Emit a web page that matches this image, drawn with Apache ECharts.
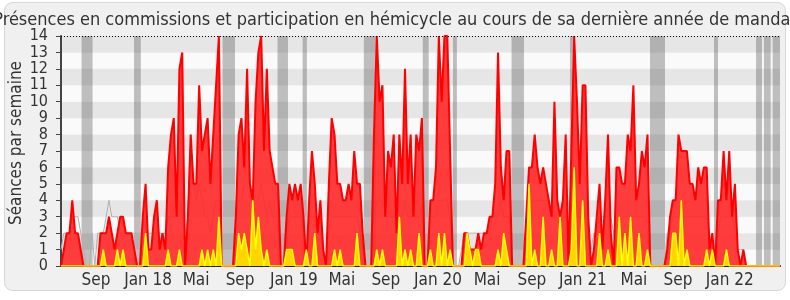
<!DOCTYPE html>
<html><head><meta charset="utf-8">
<script src="https://cdn.jsdelivr.net/npm/echarts@6/dist/echarts.min.js"></script>
<style>html,body{margin:0;padding:0;background:#fff}#c{width:790px;height:300px}</style>
</head><body><div id="c"></div>
<script>
// x positions are in weeks since the first week shown (week 0 .. 255)
const tickWeeks = [12.4, 30.9, 47.9, 63.5, 82.6, 99.6, 115.2, 133.7, 151.1, 167, 185.1, 203.2, 218.8, 237.2];
const tickLabels = ['Sep', 'Jan 18', 'Mai', 'Sep', 'Jan 19', 'Mai', 'Sep', 'Jan 20', 'Mai', 'Sep', 'Jan 21', 'Mai', 'Sep', 'Jan 22'];
const yTicks = [0,1,2,3,4,5,6,7,8,9,10,11,12,13,14];

// red: présences (séances par semaine)
const presence = [
 0,1,2,2,4,2,2,1,0,0,
 0,0,0,0,2,2,2,3,2,1,
 2,3,3,2,2,2,1,0,0,3,
 5,1,1,3,4,1,2,1,6,8,
 9,3,12,13,0,3,8,5,5,11,
 7,8,9,5,8,11,14,0,0,0,
 0,0,3,8,9,6,12,5,4,10,
 13,14,7,12,7,6,5,5,0,0,
 3,5,4,5,4,5,3,0,4,7,
 5,2,4,1,0,5,9,8,5,5,
 4,4,5,4,7,5,5,2,0,0,
 0,8,14,10,11,3,7,6,8,2,
 8,5,12,5,8,3,8,7,9,0,
 0,4,4,6,14,10,14,14,7,0,
 0,0,0,2,2,1,1,1,2,1,
 2,2,3,3,5,13,6,4,7,7,
 0,0,0,0,0,3,6,6,8,6,
 5,6,5,4,3,10,4,3,4,8,
 0,7,14,10,5,11,11,3,0,1,
 3,5,1,4,8,2,0,6,6,5,
 5,8,7,11,4,5,7,6,8,0,
 0,0,0,0,0,1,3,4,4,8,
 7,7,7,5,5,4,6,5,6,6,
 1,2,0,4,4,7,4,7,3,5,
 1,0,1,0,0,0,0,0,0,0,
 0,0,0,0,0,0
];
// yellow: participation en hémicycle
const hemicycle = [
 0,0,0,0,0,0,0,0,0,0,
 0,0,0,0,0,1,0,0,0,0,
 1,0,1,0,0,0,0,0,0,0,
 2,0,0,0,0,0,0,0,1,0,
 0,0,1,0,0,0,0,0,0,0,
 1,0,1,0,1,0,3,0,0,0,
 0,0,0,2,1,2,1,0,4,1,
 3,1,0,1,0,0,0,0,0,0,
 1,1,1,0,0,0,0,1,0,0,
 2,0,0,0,0,0,0,1,0,1,
 0,0,0,0,0,2,0,0,0,0,
 0,0,1,0,1,0,0,0,0,0,
 3,0,1,0,1,0,0,2,0,0,
 0,1,0,0,2,0,2,0,1,0,
 0,0,0,0,2,1,0,1,1,0,
 0,0,0,0,0,1,0,2,1,0,
 0,0,0,0,0,0,5,0,1,0,
 0,3,0,0,1,0,0,3,0,0,
 0,1,6,0,0,4,0,0,0,0,
 0,2,0,0,1,0,0,0,3,0,
 2,0,3,0,0,2,0,0,1,0,
 0,0,0,0,0,0,0,2,2,0,
 4,0,1,0,0,0,0,0,0,1,
 0,1,0,0,0,0,1,0,0,0,
 0,0,0,0,0,0,0,0,0,0,
 0,0,0,0,0,0
];
// grey: médiane des députés
const mediane = [
 1,2,2,2,3,3,3,2,1,0,
 0,2,0,2,2,2,3,4,3,3,
 3,2,2,2,2,2,2,2,2,2,
 2,2,2,2,2,2,2,2,3,3,
 3,3,4,3,2,3,5,5,4,5,
 4,3,3,2,3,4,4,0,0,0,
 0,0,3,4,4,5,5,5,4,4,
 4,5,4,3,4,3,3,3,0,0,
 1,3,3,3,3,3,2,0,3,3,
 3,2,2,1,0,2,3,3,3,3,
 3,3,3,3,3,3,2,1,0,0,
 0,3,4,4,4,3,3,3,3,3,
 3,3,4,3,3,3,3,3,3,0,
 0,3,3,3,4,4,4,4,3,0,
 0,0,1,2,2,2,2,2,2,2,
 2,2,2,3,3,3,4,3,3,3,
 0,0,0,0,0,3,3,4,4,4,
 4,4,4,4,3,3,3,3,3,3,
 2,3,3,3,3,3,3,2,1,2,
 2,3,3,3,3,3,2,1,2,3,
 3,3,3,3,3,3,3,3,2,0,
 0,0,0,0,0,2,2,3,3,3,
 3,3,3,3,3,3,3,3,3,3,
 2,1,0,2,3,3,3,3,3,2,
 1,1,1,0,0,0,0,0,0,0,
 0,0,0,0,0,0
];
// vacances parlementaires (start week, end week)
const vacStart = [7.3, 25.9, 57.3, 76.8, 85.7, 107.4, 128.3, 139.0, 159.8, 180.5, 208.9, 231.6, 246.5, 249.3, 252.4];
const vacEnd   = [11.2, 28.3, 61.7, 80.5, 87.2, 111.6, 130.4, 140.4, 164.2, 181.9, 214.2, 233.0, 248.6, 251.7, 255.0];

const FONT = "'DejaVu Sans Condensed', 'DejaVu Sans', sans-serif";
const pairs = arr => arr.map((v, i) => [i, v]);

const chart = echarts.init(document.getElementById('c'), null, {renderer: 'canvas'});
chart.setOption({
  animation: false,
  backgroundColor: '#ffffff',
  graphic: [{
    type: 'rect', z: -10, silent: true,
    shape: {x: 4.5, y: 2.5, width: 781, height: 288, r: 8},
    style: {fill: '#f0f0f0', stroke: '#d6d6d6', lineWidth: 1}
  }],
  title: {
    text: 'Présences en commissions et participation en hémicycle au cours de sa dernière année de mandat',
    left: 'center', top: 6,
    textStyle: {fontFamily: FONT, fontSize: 18, fontWeight: 'normal', color: '#333'}
  },
  grid: {left: 61, right: 10, top: 36, bottom: 34, containLabel: false, outerBoundsMode: 'none'},
  xAxis: {
    type: 'value', min: 0, max: presence.length - 1,
    axisLine: {show: true, onZero: false, lineStyle: {color: '#222', width: 2}},
    axisTick: {show: false},
    splitLine: {show: false},
    axisLabel: {
      customValues: tickWeeks,
      margin: 6, hideOverlap: false,
      fontFamily: FONT, fontSize: 17, color: '#333',
      formatter: v => { const k = tickWeeks.indexOf(v); return k >= 0 ? tickLabels[k] : ''; }
    }
  },
  yAxis: {
    type: 'value', min: 0, max: 14, interval: 1,
    name: 'Séances par semaine', nameLocation: 'middle', nameGap: 36, nameRotate: 90,
    nameMoveOverlap: false,
    nameTextStyle: {fontFamily: FONT, fontSize: 17, color: '#333', padding: [0, 0, 0, 16]},
    axisLine: {show: true, lineStyle: {color: '#444', width: 2}},
    axisTick: {show: true, length: 5, lineStyle: {color: '#444'}},
    axisLabel: {margin: 13, showMinLabel: true, showMaxLabel: true, hideOverlap: false,
      fontFamily: FONT, fontSize: 16, lineHeight: 13, color: '#333'},
    splitLine: {show: false},
    splitArea: {show: true, areaStyle: {color: ['#fafafa', '#e6e6e6']}}
  },
  series: [
    {
      name: 'médiane', type: 'line', data: pairs(mediane), z: 2,
      symbol: 'none', lineStyle: {color: '#b0b0b0', width: 1},
      markArea: {
        silent: true,
        itemStyle: {color: 'rgba(76,76,76,0.35)'},
        data: vacStart.map((s, i) => [{xAxis: s}, {xAxis: vacEnd[i]}])
      },
      markLine: {
        silent: true, symbol: 'none', label: {show: false},
        lineStyle: {color: '#000', type: [1, 2], width: 1},
        data: [{yAxis: yTicks[yTicks.length - 1]}]
      }
    },
    {
      name: 'présences', type: 'line', data: pairs(presence), z: 3,
      symbol: 'none', lineStyle: {color: '#ff0000', width: 2},
      areaStyle: {color: 'rgb(255,40,40)', opacity: 0.9}
    },
    {
      name: 'hémicycle', type: 'line', data: pairs(hemicycle), z: 4,
      symbol: 'none', lineStyle: {color: '#ffff00', width: 1.5},
      areaStyle: {color: '#ffd500', opacity: 1}
    }
  ]
});
</script>
</body></html>
